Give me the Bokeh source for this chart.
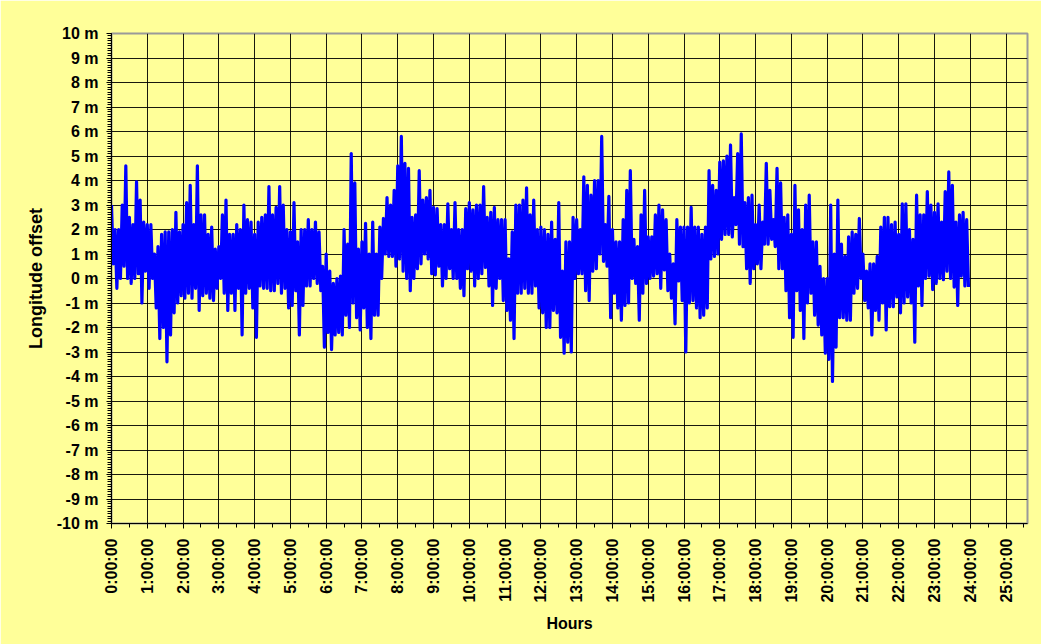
import numpy as np
from bokeh.plotting import figure
from bokeh.models import Range1d, FixedTicker, ColumnDataSource
from bokeh.embed import file_html
from bokeh.resources import INLINE

# ---------------- data ----------------
# x axis ticks (hours) and their labels
hour_ticks = list(range(0, 26))
hour_labels = ["0:00:00", "1:00:00", "2:00:00", "3:00:00", "4:00:00", "5:00:00",
               "6:00:00", "7:00:00", "8:00:00", "9:00:00", "10:00:00", "11:00:00",
               "12:00:00", "13:00:00", "14:00:00", "15:00:00", "16:00:00", "17:00:00",
               "18:00:00", "19:00:00", "20:00:00", "21:00:00", "22:00:00", "23:00:00",
               "24:00:00", "25:00:00"]
# y axis ticks (metres) and their labels
metre_ticks = list(range(-10, 11))
metre_labels = ["-10 m", "-9 m", "-8 m", "-7 m", "-6 m", "-5 m", "-4 m", "-3 m", "-2 m",
                "-1 m", "0 m", "1 m", "2 m", "3 m", "4 m", "5 m", "6 m", "7 m", "8 m",
                "9 m", "10 m"]

# sampling interval of the recorded series (hours): one high and one low swing per interval
sample_step = 0.1

# local highs of the longitude offset (m), one per 0.1 h, from 0:00 to 23:54
offset_high = [
    3.0, 2.0, 2.0, 3.0, 4.6, 2.5, 2.2, 3.95, 3.2, 2.3,
    2.2, 2.2, 1.0, 1.3, 1.8, 1.9, 1.9, 2.0, 2.7, 1.9,
    2.2, 3.1, 3.8, 2.2, 4.6, 2.6, 2.6, 1.8, 2.1, 1.2,
    1.3, 2.6, 3.2, 1.8, 1.8, 2.2, 2.0, 3.0, 2.4, 2.3,
    1.8, 2.3, 2.5, 2.6, 3.75, 2.6, 2.9, 3.75, 3.0, 2.0,
    1.9, 3.1, 1.5, 2.0, 2.0, 2.4, 2.0, 2.3, 1.9, 0.5,
    1.0, 0.3, -0.2, 0.0, 0.1, 2.0, 1.4, 5.1, 3.9, 1.2,
    1.5, 2.25, 1.0, 2.3, 1.0, 2.1, 2.45, 3.3, 3.0, 3.6,
    4.6, 5.8, 4.7, 4.5, 2.5, 2.6, 4.4, 3.2, 3.3, 3.6,
    2.9, 2.85, 2.2, 2.2, 3.05, 2.0, 3.1, 2.0, 2.0, 2.85,
    3.1, 2.8, 3.0, 3.0, 3.75, 2.5, 2.7, 2.9, 2.4, 2.4,
    2.4, 0.8, 1.9, 3.0, 3.0, 3.2, 3.7, 2.6, 3.2, 2.0,
    2.1, 2.0, 1.8, 2.3, 1.6, 3.1, 0.3, 1.5, 1.5, 2.5,
    2.4, 2.0, 4.15, 3.8, 3.4, 4.0, 4.0, 5.8, 2.2, 3.35,
    2.0, 1.5, 1.5, 2.4, 3.6, 4.4, 1.6, 1.3, 2.6, 3.6,
    1.7, 1.7, 2.6, 3.0, 2.8, 2.4, 1.0, 0.6, 2.4, 2.1,
    2.1, 2.1, 2.9, 2.1, 2.1, 1.8, 2.1, 4.4, 3.8, 3.6,
    4.75, 4.8, 5.0, 5.45, 3.3, 5.1, 5.9, 3.1, 3.3, 3.4,
    2.2, 3.0, 2.3, 4.7, 3.6, 2.4, 4.5, 3.9, 2.5, 2.6,
    1.8, 3.8, 2.8, 2.0, 3.0, 3.4, 1.5, 1.5, 0.5, 0.0,
    0.0, 3.0, 1.0, 3.2, 1.4, 0.9, 1.7, 1.9, 1.8, 2.45,
    1.0, 0.3, 0.6, 0.6, 0.9, 2.1, 2.5, 2.5, 2.2, 2.3,
    1.8, 3.05, 3.05, 2.0, 1.6, 3.4, 2.6, 2.6, 3.55, 3.0,
    2.7, 3.05, 2.3, 3.55, 4.35, 3.8, 2.3, 2.6, 2.7, 2.4,
]
# local lows of the longitude offset (m), one per 0.1 h
offset_low = [
    0.6, -0.4, 0.0, 0.5, 0.0, -0.2, 0.0, 0.2, -1.0, 0.3,
    -0.4, 0.0, -1.2, -2.45, -2.0, -3.4, -2.3, -1.4, -1.0, -0.7,
    -0.8, -0.6, -0.8, -0.4, -1.3, -0.7, -0.6, -0.8, -0.9, -0.4,
    0.0, -0.6, -1.3, -0.6, -1.3, -0.4, -2.3, -0.6, -0.4, -1.2,
    -2.4, -0.3, -0.4, -0.4, -0.5, -0.5, -0.2, -0.6, -0.4, -1.2,
    -1.1, -0.5, -2.3, -1.1, -0.3, -0.3, 0.0, -0.2, -0.5, -2.8,
    -2.2, -2.9, -2.3, -2.2, -2.3, -1.5, -2.0, -1.0, -1.6, -2.1,
    -1.2, -2.0, -2.45, -1.5, -1.5, 0.0, 1.0, 0.9, 0.9, 0.5,
    0.8, 0.3, 0.0, -0.5, 0.0, 0.4, 0.6, 1.0, 0.8, 0.2,
    0.15, 0.5, -0.3, 0.0, 0.4, 0.0, 0.0, -0.4, -0.7, 0.4,
    0.3, -0.3, 0.0, 0.2, 0.45, -0.3, -1.1, -0.4, 0.0, -0.9,
    -1.3, -1.7, -2.45, -0.6, -0.6, -0.4, -0.6, -0.6, -0.3, -1.2,
    -1.4, -2.0, -2.0, -1.3, -1.4, -2.4, -3.05, -2.6, -3.0, 0.0,
    0.2, 0.2, -0.5, -0.9, 0.3, 0.4, 1.0, 0.7, 0.5, -1.6,
    -0.6, -1.2, -1.7, -1.1, -1.0, 0.0, -0.2, -1.7, -0.6, -0.2,
    0.0, 0.1, 0.2, -0.4, 0.35, -0.5, -0.8, -1.85, -0.1, -0.9,
    -3.0, -1.0, -0.9, -1.2, -1.6, -1.5, -1.2, 0.8, 0.9, 1.0,
    1.6, 1.8, 1.8, 1.7, 2.2, 1.4, 1.3, 0.4, -0.2, 0.4,
    0.6, 0.4, 1.4, 1.4, 1.6, 1.3, 0.4, 0.4, -0.5, -1.6,
    -2.4, -0.5, -1.3, -2.45, -1.0, -0.6, -1.5, -1.9, -2.3, -3.05,
    -3.3, -4.2, -2.8, -1.6, -1.6, -1.7, -1.7, -0.6, -0.4, 0.0,
    -0.9, -1.2, -2.3, -1.3, -1.7, -1.0, -2.1, -1.15, -1.15, -0.75,
    -1.4, -1.0, -0.75, -1.0, -2.6, -0.3, -1.1, 0.0, 0.1, -0.45,
    -0.2, 0.0, -0.05, 0.3, 0.0, -0.35, -1.1, 0.1, -0.3, -0.35,
]

# ---------------- build the series ----------------
n = len(offset_high)
t_high = np.arange(n) * sample_step
t_low = t_high + sample_step / 2
t = np.empty(2 * n)
y = np.empty(2 * n)
t[0::2], t[1::2] = t_high, t_low
y[0::2], y[1::2] = offset_high, offset_low
src = ColumnDataSource(dict(t=t, y=y))

# ---------------- figure ----------------
BG = "#FFFF99"
FONT = "Liberation Sans"

p = figure(width=1041, height=644, output_backend="svg", toolbar_location=None,
           x_range=Range1d(0, 25.6), y_range=Range1d(-10, 10),
           background_fill_color=BG, border_fill_color=BG,
           min_border_left=111, min_border_right=14, min_border_top=33,
           min_border_bottom=121)
p.outline_line_color = "#9a9a9a"
p.outline_line_width = 2

p.line("t", "y", source=src, line_color="#0000FF", line_width=3.2,
       line_join="round")

# grids
p.xgrid.ticker = FixedTicker(ticks=hour_ticks)
p.ygrid.ticker = FixedTicker(ticks=metre_ticks)
for g in (p.xgrid, p.ygrid):
    g.grid_line_color = "black"
    g.grid_line_width = 1
    g.grid_line_alpha = 0.9

# x axis
xa = p.xaxis[0]
xa.ticker = FixedTicker(ticks=hour_ticks, minor_ticks=list(np.arange(0, 25.6, 0.5)))
xa.major_label_overrides = {h: lab for h, lab in zip(hour_ticks, hour_labels)}
xa.major_label_orientation = np.pi / 2
xa.axis_label = "Hours"

# y axis
ya = p.yaxis[0]
ya.ticker = FixedTicker(ticks=metre_ticks, minor_ticks=list(np.round(np.arange(-10, 10.01, 0.1), 2)))
ya.major_label_overrides = {m: lab for m, lab in zip(metre_ticks, metre_labels)}
ya.axis_label = "Longitude offset"

for ax in (xa, ya):
    ax.axis_line_color = "black"
    ax.axis_line_width = 1
    ax.major_tick_line_color = "black"
    ax.minor_tick_line_color = "black"
    ax.major_tick_in = 0
    ax.minor_tick_in = 0
    ax.major_tick_out = 5
    ax.minor_tick_out = 4
    ax.major_label_text_font = FONT
    ax.major_label_text_font_style = "bold"
    ax.major_label_text_font_size = "16px"
    ax.major_label_text_color = "black"
    ax.axis_label_text_font = FONT
    ax.axis_label_text_font_style = "bold"
    ax.axis_label_text_color = "black"
xa.axis_label_text_font_size = "16px"
ya.axis_label_text_font_size = "18px"
xa.major_label_standoff = 10
ya.major_label_standoff = 8
xa.axis_label_standoff = 9
ya.axis_label_standoff = 8

open("out.html", "w").write(file_html(p, INLINE))
